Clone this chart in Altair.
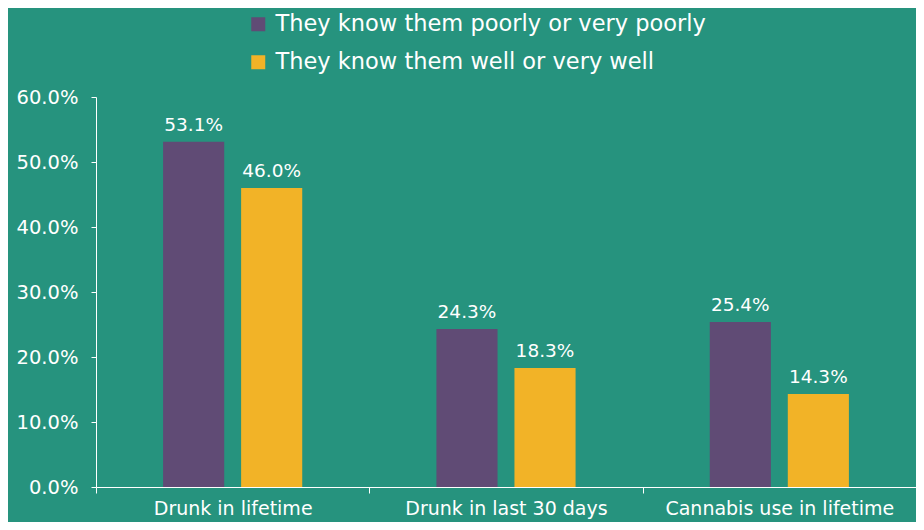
import altair as alt
import pandas as pd

categories = ["Drunk in lifetime", "Drunk in last 30 days", "Cannabis use in lifetime"]
series = ["They know them poorly or very poorly", "They know them well or very well"]
poorly = [0.531, 0.243, 0.254]
well = [0.460, 0.183, 0.143]
colors = ["#604B75", "#F2B327"]
y_ticks = [0.0, 0.1, 0.2, 0.3, 0.4, 0.5, 0.6]

rows = []
for c, p, w in zip(categories, poorly, well):
    rows.append({"cat": c, "series": series[0], "value": p})
    rows.append({"cat": c, "series": series[1], "value": w})
df = pd.DataFrame(rows)

FONT = "DejaVu Sans"
BG = "#26937E"

x = alt.X("cat:N", sort=categories, title=None,
          scale=alt.Scale(paddingInner=0, paddingOuter=0),
          axis=alt.Axis(labelAngle=0, tickBand="extent", labelFontSize=19,
                        labelColor="white", domainColor="white", tickColor="white",
                        tickSize=6, labelPadding=6, labelFont=FONT, labelLimit=400))
xo = alt.XOffset("series:N", sort=series,
                 scale=alt.Scale(paddingInner=0.2166, paddingOuter=0.86))
y = alt.Y("value:Q", title=None,
          scale=alt.Scale(domain=[0, 0.6], nice=False),
          axis=alt.Axis(values=y_ticks, format=".1%", grid=False, labelFontSize=19.5,
                        labelColor="white", domainColor="white", tickColor="white",
                        tickSize=5, labelPadding=13, labelFont=FONT))
color = alt.Color("series:N", sort=series,
                  scale=alt.Scale(domain=series, range=colors),
                  legend=alt.Legend(title=None, orient="none", legendX=151, legendY=-84,
                                    direction="vertical", symbolType="square",
                                    symbolSize=196, symbolStrokeWidth=0,
                                    labelFontSize=22.5, labelColor="white",
                                    labelFont=FONT, rowPadding=15, labelOffset=6,
                                    labelLimit=700))

base = alt.Chart(df)
bars = base.mark_bar().encode(x=x, xOffset=xo, y=y, color=color)
labels = base.mark_text(dy=-17, fontSize=18.5, color="white", font=FONT).encode(
    x=x, xOffset=xo, y=y, text=alt.Text("value:Q", format=".1%"))

chart = (bars + labels).properties(
    width=820, height=390,
    background=BG,
    padding={"left": 88, "top": 89, "right": 0, "bottom": 35},
    autosize=alt.AutoSizeParams(type="none"),
).configure_view(stroke=None)

chart.save("out.html", embed_options={"renderer": "svg", "actions": False})
